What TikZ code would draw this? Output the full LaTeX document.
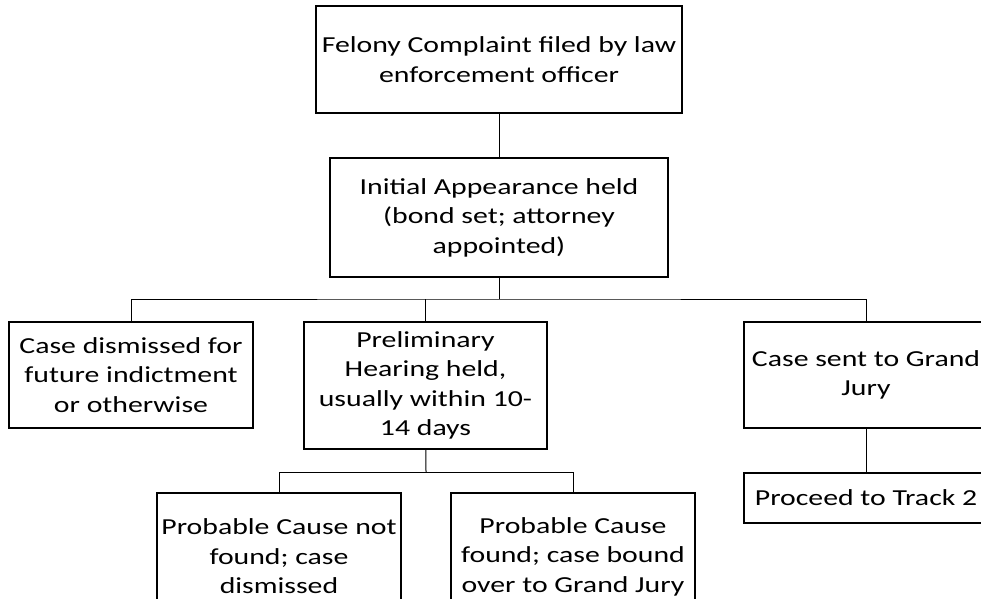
\documentclass[tikz,border=0pt]{standalone}
\usepackage{fontspec}
\setmainfont[FakeStretch=1.3]{Carlito}
\begin{document}
\begin{tikzpicture}[
    x=1pt, y=-1pt,
    every node/.style={font=\fontsize{22.9}{29.5}\selectfont},
    box/.style={draw, rectangle, line width=2pt, inner sep=0pt, align=center},
    link/.style={line width=1pt}
]
  \useasboundingbox (0,0) rectangle (981,598);

  % Upper chain
  \node (complaint) [box, minimum width=366pt, minimum height=107pt] at (499,59.5) {Felony Complaint filed by law\\enforcement officer};
  \node (initial) [box, minimum width=338pt, minimum height=119pt] at (499,217.5) {Initial Appearance held\\(bond set; attorney\\appointed)};

  % Outcomes of the initial appearance
  \node (dismissed) [box, minimum width=244pt, minimum height=106pt] at (131,375) {Case dismissed for\\future indictment\\or otherwise};
  \node (prelim) [box, minimum width=243pt, minimum height=127pt] at (425.5,385.5) {Preliminary\\Hearing held,\\usually within 10-\\14 days};
  \node (grand) [box, minimum width=244pt, minimum height=106pt] at (866,375) {Case sent to Grand\\Jury};
  \node (track) [box, minimum width=244pt, minimum height=50pt] at (866,498) {Proceed to Track 2};

  % Outcomes of the preliminary hearing
  \node (notfound) [box, minimum width=244pt, minimum height=127pt] at (279,556.5) {Probable Cause not\\found; case\\dismissed};
  \node (found) [box, minimum width=244pt, minimum height=127pt] at (573,556.5) {Probable Cause\\found; case bound\\over to Grand Jury};

  \coordinate (split) at (499,299);
  \coordinate (hearingsplit) at (426,472);

  \draw[link] (complaint) -- (initial);
  \draw[link] (initial) -- (split);
  \draw[link] (dismissed) |- (split) -| (grand);
  \draw[link] (prelim) -- (prelim |- split);
  \draw[link] (grand) -- (track);
  \draw[link] (prelim) -- (hearingsplit);
  \draw[link] (notfound) |- (hearingsplit) -| (found);
\end{tikzpicture}
\end{document}
